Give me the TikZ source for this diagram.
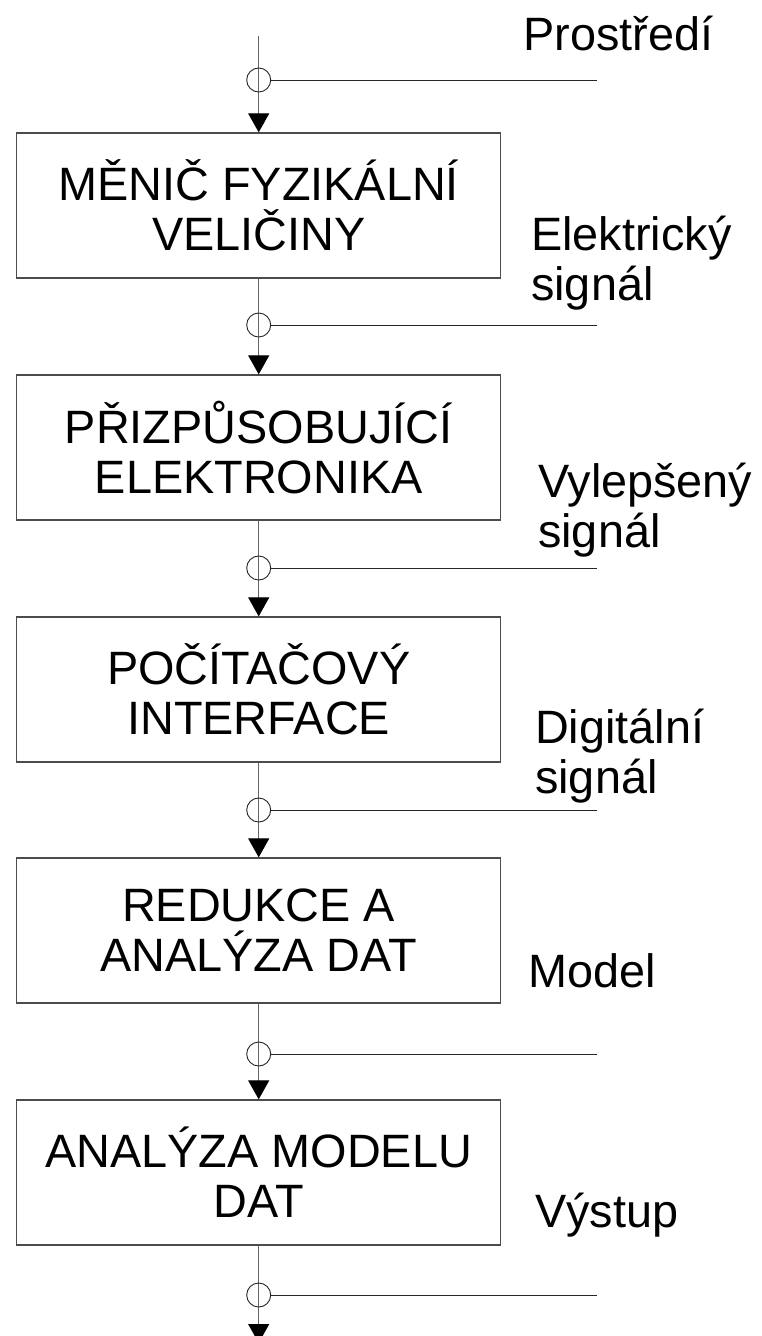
\documentclass[tikz,border=0pt]{standalone}
\usepackage{fontspec}
\setmainfont{Liberation Sans}
\usetikzlibrary{arrows.meta}
\begin{document}
\begin{tikzpicture}[x=1pt,y=-1pt,
  txt/.style={font=\fontsize{46.8}{50}\selectfont, inner sep=0pt},
  box/.style={draw=black!70, line width=1.3pt, minimum width=484pt, minimum height=145pt,
     align=center, inner sep=0pt, font=\fontsize{46.8}{50}\selectfont},
  junc/.style={circle, draw=black!85, line width=0.9pt, minimum size=24pt, inner sep=0pt},
  flow/.style={draw=black!60, line width=1.2pt, -{Triangle[length=19pt,width=21pt,fill=black,color=black]}},
  tap/.style={draw=black!85, line width=1pt},
  lbl/.style={txt, anchor=base west, align=left}
]
\useasboundingbox (0,0) rectangle (762,1336);

% boxes
\node[box] (b1) at (258.7,205.5) {MĚNIČ FYZIKÁLNÍ\\VELIČINY};
\node[box] (b2) at (258.7,447.5) {PŘIZPŮSOBUJÍCÍ\\ELEKTRONIKA};
\node[box] (b3) at (258.7,689.5) {POČÍTAČOVÝ\\INTERFACE};
\node[box] (b4) at (258.7,930.5) {REDUKCE A\\ANALÝZA DAT};
\node[box] (b5) at (258.7,1172.5) {ANALÝZA MODELU\\DAT};

% start / end
\coordinate (s0) at (258.7,36);
\coordinate (s6) at (258.7,1343);

% flow arrows
\draw[flow] (s0) -- (b1.north);
\draw[flow] (b1.south) -- (b2.north);
\draw[flow] (b2.south) -- (b3.north);
\draw[flow] (b3.south) -- (b4.north);
\draw[flow] (b4.south) -- (b5.north);
\draw[flow] (b5.south) -- (s6);

% junctions
\node[junc] (c0) at (258.7,80) {};
\node[junc] (c1) at (258.7,325) {};
\node[junc] (c2) at (258.7,568) {};
\node[junc] (c3) at (258.7,810) {};
\node[junc] (c4) at (258.7,1054) {};
\node[junc] (c5) at (258.7,1295) {};

\coordinate (e0) at (597,80);
\coordinate (e1) at (597,325);
\coordinate (e2) at (597,568);
\coordinate (e3) at (597,810);
\coordinate (e4) at (597,1054);
\coordinate (e5) at (597,1295);

\draw[tap] (c0.east) -- (e0);
\draw[tap] (c1.east) -- (e1);
\draw[tap] (c2.east) -- (e2);
\draw[tap] (c3.east) -- (e3);
\draw[tap] (c4.east) -- (e4);
\draw[tap] (c5.east) -- (e5);

% labels (base = baseline of last line)
\node[lbl] (l0) at (523,50) {Prostředí};
\node[lbl] (l1) at (531,300) {Elektrický\\signál};
\node[lbl] (l2) at (538,547) {Vylepšený\\signál};
\node[lbl] (l3) at (535,793) {Digitální\\signál};
\node[lbl] (l4) at (528,987) {Model};
\node[lbl] (l5) at (535,1227) {Výstup};
\end{tikzpicture}
\end{document}
